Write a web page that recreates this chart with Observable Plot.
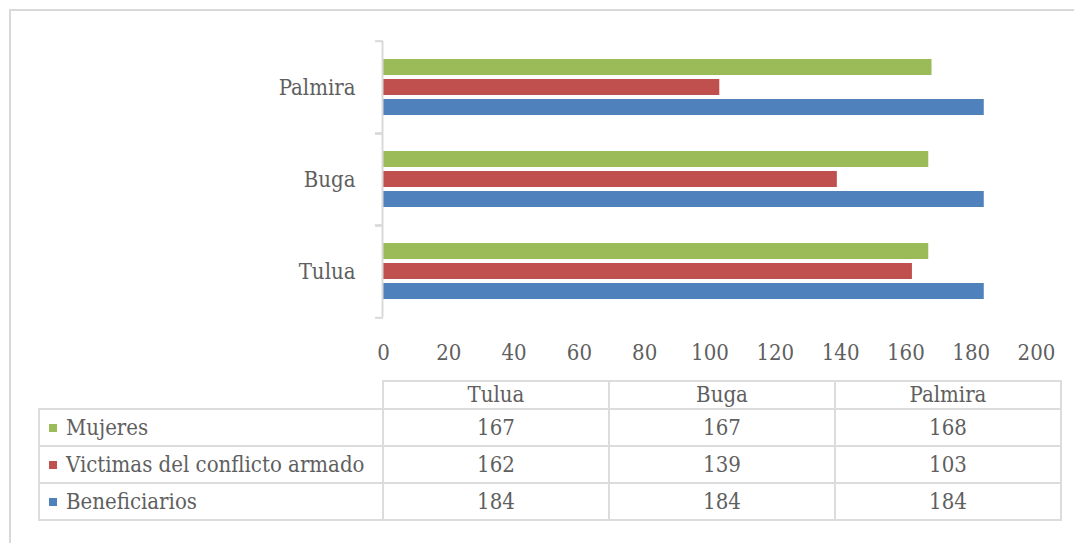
<!DOCTYPE html>
<html>
<head>
<meta charset="utf-8">
<script src="https://cdn.jsdelivr.net/npm/d3@7"></script>
<script src="https://cdn.jsdelivr.net/npm/@observablehq/plot@0.6"></script>
<style>
  html, body { margin: 0; padding: 0; background: #fff; }
  body { width: 1074px; height: 543px; position: relative; overflow: hidden;
         font-family: "DejaVu Serif Condensed", "DejaVu Serif", serif; font-stretch: condensed; color: #595959; }
  #frame { position: absolute; left: 9px; top: 9px; width: 1070px; height: 540px;
           border-top: 2px solid #d9d9d9; border-left: 2px solid #d9d9d9; }
  #chart { position: absolute; left: 0; top: 0; }
  #chart svg text { font-family: "DejaVu Serif Condensed", "DejaVu Serif", serif; font-stretch: condensed; }
  #tbl { position: absolute; left: 38px; top: 380px; border-collapse: collapse; table-layout: fixed;
         font-size: 22px; color: #5f5f5f; }
  #tbl td { border: 2px solid #dcdcdc; padding: 0; text-align: center; line-height: 1; }
  #tbl tr.head td { height: 26px; }
  #tbl tr.body td { height: 35px; }
  #tbl td.blank { border: none; }
  #tbl td.name { text-align: left; padding-left: 9px; white-space: nowrap; }
  .sw { display: inline-block; width: 8px; height: 8px; margin-right: 9px; vertical-align: 3px; }
</style>
</head>
<body>
<div id="frame"></div>
<div id="chart"></div>
<table id="tbl"></table>
<script>
// ---- data ----
const cities = ["Tulua", "Buga", "Palmira"];
const seriesNames = ["Mujeres", "Victimas del conflicto armado", "Beneficiarios"];
const mujeres = [167, 167, 168];
const victimas = [162, 139, 103];
const beneficiarios = [184, 184, 184];
const seriesColors = ["#9BBB59", "#C0504D", "#4F81BD"];
const xTicks = [0, 20, 40, 60, 80, 100, 120, 140, 160, 180, 200];

const seriesValues = [mujeres, victimas, beneficiarios];
const rows = cities.flatMap((c, i) =>
  seriesNames.map((s, j) => ({ city: c, series: s, value: seriesValues[j][i] })));

const fontFamily = '"DejaVu Serif Condensed", "DejaVu Serif", serif';
const H = 370, MT = 40, MB = 52;
const half = (H - MT - MB) / cities.length / 2;

const chart = Plot.plot({
  width: 1074,
  height: H,
  marginLeft: 383,
  marginRight: 38,
  marginTop: MT,
  marginBottom: MB,
  style: { fontFamily, fontSize: "22px", color: "#5f5f5f", background: "transparent", overflow: "visible" },
  x: { domain: [0, 200] },
  fy: { domain: cities.slice().reverse(), padding: 0 },
  y: { domain: seriesNames, paddingInner: 0.2, paddingOuter: 0.8, axis: null },
  color: { domain: seriesNames, range: seriesColors },
  marks: [
    Plot.barX(rows, { x: "value", y: "series", fy: "city", fill: "series" }),
    Plot.ruleX([0], { stroke: "#d9d9d9", strokeWidth: 2, dx: -1 }),
    Plot.axisFy({ anchor: "left", tickSize: 0, tickPadding: 28, label: null, fill: "#5f5f5f", fontSize: 22 }),
    Plot.axisFy({ anchor: "left", tickSize: 8, tickFormat: () => "", label: null, dy: -half, stroke: "#d9d9d9", strokeWidth: 2 }),
    Plot.axisFy({ anchor: "left", tickSize: 8, tickFormat: () => "", label: null, dy: half, stroke: "#d9d9d9", strokeWidth: 2 }),
    Plot.axisX({ ticks: xTicks, tickSize: 0, tickPadding: 27, label: null, fill: "#5f5f5f", fontSize: 22 })
  ]
});
document.getElementById("chart").appendChild(chart);

// ---- data table ----
const tbl = document.getElementById("tbl");
const cg = document.createElement("colgroup");
[344, 226, 226, 226].forEach(w => { const c = document.createElement("col"); c.style.width = w + "px"; cg.appendChild(c); });
tbl.appendChild(cg);
const head = document.createElement("tr"); head.className = "head";
const blank = document.createElement("td"); blank.className = "blank"; head.appendChild(blank);
cities.forEach(c => { const td = document.createElement("td"); td.textContent = c; head.appendChild(td); });
tbl.appendChild(head);
seriesNames.forEach((s, j) => {
  const tr = document.createElement("tr"); tr.className = "body";
  const name = document.createElement("td"); name.className = "name";
  const sw = document.createElement("span"); sw.className = "sw"; sw.style.background = seriesColors[j];
  name.appendChild(sw); name.appendChild(document.createTextNode(s));
  tr.appendChild(name);
  cities.forEach((c, i) => { const td = document.createElement("td"); td.textContent = seriesValues[j][i]; tr.appendChild(td); });
  tbl.appendChild(tr);
});
</script>
</body>
</html>
